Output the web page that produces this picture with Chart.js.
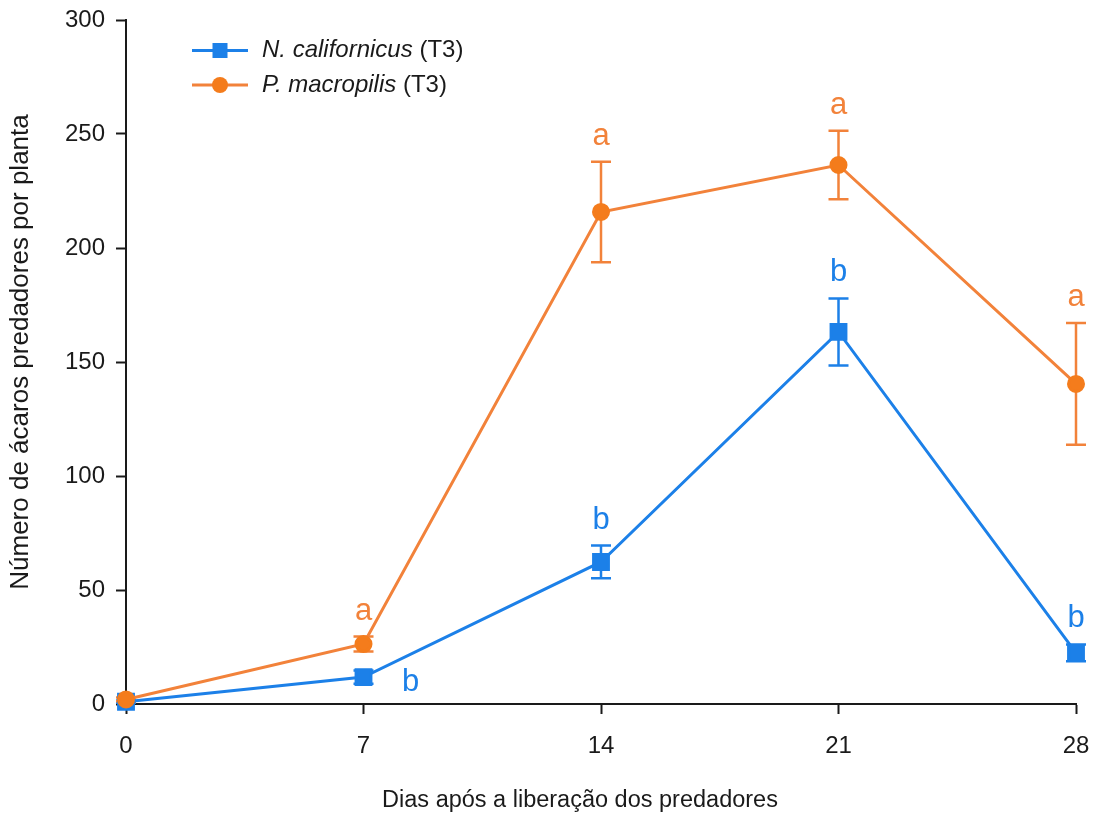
<!DOCTYPE html>
<html>
<head>
<meta charset="utf-8">
<script src="https://cdn.jsdelivr.net/npm/chart.js@4/dist/chart.umd.min.js"></script>
<style>
  html, body { margin: 0; padding: 0; background: #fff; }
  #wrap { width: 1100px; height: 814px; }
</style>
</head>
<body>
<div id="wrap"><canvas id="c" width="1100" height="814"></canvas></div>
<script>
// Days after predator release
const days = [0, 7, 14, 21, 28];

// Neoseiulus californicus (T3): mean and standard error
const nCalMean = [1, 11.8, 62.3, 163.2, 22.4];
const nCalErr  = [0.5, 2.9, 7.2, 14.7, 3.7];
const nCalLetters = ['', 'b', 'b', 'b', 'b'];

// Phytoseiulus macropilis (T3): mean and standard error
const pMacMean = [2, 26.3, 215.8, 236.4, 140.4];
const pMacErr  = [0.8, 3.3, 22, 15, 26.7];
const pMacLetters = ['', 'a', 'a', 'a', 'a'];

const yTicks = [0, 50, 100, 150, 200, 250, 300];

const xTitle = 'Dias após a liberação dos predadores';
const yTitle = 'Número de ácaros predadores por planta';

const BLUE = '#1c80e8';
const ORANGE = '#f2823a';
const ORANGE_PT = '#f47c1c';
const INK = '#1a1a1a';
const FONT = '"Liberation Sans", Arial, sans-serif';

const toPoints = (ys) => days.map((d, i) => ({ x: d, y: ys[i] }));

// Error bars, drawn under the markers, and significance letters
const errorBars = {
  id: 'errorBars',
  beforeDatasetsDraw(chart) {
    const { ctx, scales: { x, y } } = chart;
    chart.data.datasets.forEach((ds) => {
      ctx.save();
      ctx.strokeStyle = ds.borderColor;
      ctx.lineWidth = 2.5;
      ds.err.forEach((e, i) => {
        const px = x.getPixelForValue(days[i]);
        const top = y.getPixelForValue(ds.mean[i] + e);
        const bot = y.getPixelForValue(ds.mean[i] - e);
        const cap = 10;
        ctx.beginPath();
        ctx.moveTo(px, top); ctx.lineTo(px, bot);
        ctx.moveTo(px - cap, top); ctx.lineTo(px + cap, top);
        ctx.moveTo(px - cap, bot); ctx.lineTo(px + cap, bot);
        ctx.stroke();
      });
      ctx.restore();
    });
  },
  afterDatasetsDraw(chart) {
    const { ctx, scales: { x, y } } = chart;
    chart.data.datasets.forEach((ds) => {
      ctx.save();
      ctx.fillStyle = ds.borderColor;
      ctx.font = '31px ' + FONT;
      ctx.textAlign = 'center';
      ctx.textBaseline = 'alphabetic';
      ds.letters.forEach((t, i) => {
        if (!t) return;
        const px = x.getPixelForValue(days[i]);
        const py = y.getPixelForValue(ds.mean[i]);
        const top = y.getPixelForValue(ds.mean[i] + ds.err[i]);
        if (ds.letterSide && ds.letterSide[i]) {
          ctx.fillText(t, px + 47, py + 14);
        } else {
          ctx.fillText(t, px, top - 17);
        }
      });
      ctx.restore();
    });
  }
};

// Axis titles
const axisTitles = {
  id: 'axisTitles',
  afterDraw(chart) {
    const { ctx } = chart;
    ctx.save();
    ctx.fillStyle = INK;
    ctx.textAlign = 'center';
    ctx.textBaseline = 'middle';
    ctx.font = '23.5px ' + FONT;
    ctx.fillText(xTitle, 580, 801);
    ctx.font = '26px ' + FONT;
    ctx.translate(21, 352);
    ctx.rotate(-Math.PI / 2);
    ctx.fillText(yTitle, 0, 0);
    ctx.restore();
  }
};

// Legend with italic species names
const legendBox = {
  id: 'legendBox',
  afterDraw(chart) {
    const { ctx } = chart;
    const rows = [
      { ds: chart.data.datasets[0], y: 50.5 },
      { ds: chart.data.datasets[1], y: 85 }
    ];
    rows.forEach(({ ds, y }) => {
      ctx.save();
      ctx.strokeStyle = ds.borderColor;
      ctx.lineWidth = 3;
      ctx.beginPath();
      ctx.moveTo(192, y); ctx.lineTo(248, y);
      ctx.stroke();
      ctx.fillStyle = ds.pointBackgroundColor;
      if (ds.pointStyle === 'rect') {
        ctx.fillRect(220 - 7.5, y - 7.5, 15, 15);
      } else {
        ctx.beginPath();
        ctx.arc(220, y, 8, 0, Math.PI * 2);
        ctx.fill();
      }
      ctx.fillStyle = INK;
      ctx.textBaseline = 'middle';
      ctx.textAlign = 'left';
      ctx.font = 'italic 24px ' + FONT;
      ctx.fillText(ds.species, 262, y);
      const w = ctx.measureText(ds.species + ' ').width;
      ctx.font = '24px ' + FONT;
      ctx.fillText('(T3)', 262 + w, y);
      ctx.restore();
    });
  }
};

new Chart(document.getElementById('c'), {
  type: 'line',
  data: {
    datasets: [
      {
        label: 'N. californicus (T3)',
        species: 'N. californicus',
        data: toPoints(nCalMean),
        mean: nCalMean, err: nCalErr, letters: nCalLetters,
        letterSide: [false, true, false, false, false],
        borderColor: BLUE,
        backgroundColor: BLUE,
        pointBackgroundColor: BLUE,
        pointBorderColor: BLUE,
        pointStyle: 'rect',
        pointRadius: 10.5,
        borderWidth: 3,
        tension: 0,
        clip: false,
        order: 1
      },
      {
        label: 'P. macropilis (T3)',
        species: 'P. macropilis',
        data: toPoints(pMacMean),
        mean: pMacMean, err: pMacErr, letters: pMacLetters,
        borderColor: ORANGE,
        backgroundColor: ORANGE_PT,
        pointBackgroundColor: ORANGE_PT,
        pointBorderColor: ORANGE_PT,
        pointStyle: 'circle',
        pointRadius: 7.5,
        borderWidth: 3,
        tension: 0,
        clip: false,
        order: 0
      }
    ]
  },
  options: {
    responsive: false,
    animation: false,
    events: [],
    layout: { padding: { top: 20, right: 24, bottom: 0, left: 0 } },
    plugins: {
      legend: { display: false },
      tooltip: { enabled: false }
    },
    scales: {
      x: {
        type: 'linear',
        min: 0, max: 28,
        afterFit(scale) {
          scale.height = 110;
          scale.paddingLeft = 0;
          scale.paddingRight = 0;
        },
        ticks: {
          stepSize: 7,
          color: INK,
          padding: 18,
          font: { family: FONT, size: 24 }
        },
        grid: {
          display: true,
          drawOnChartArea: false,
          drawTicks: true,
          tickLength: 10,
          tickWidth: 2,
          tickColor: INK
        },
        border: { display: true, color: INK, width: 2 },
        title: { display: false }
      },
      y: {
        min: 0, max: 300,
        afterFit(scale) {
          scale.width = 126;
          scale.paddingTop = 0;
          scale.paddingBottom = 0;
        },
        afterBuildTicks(scale) { scale.ticks = yTicks.map(v => ({ value: v })); },
        ticks: {
          color: INK,
          padding: 11,
          font: { family: FONT, size: 24 }
        },
        grid: {
          display: true,
          drawOnChartArea: false,
          drawTicks: true,
          tickLength: 10,
          tickWidth: 2,
          tickColor: INK
        },
        border: { display: true, color: INK, width: 2 },
        title: { display: false }
      }
    }
  },
  plugins: [errorBars, axisTitles, legendBox]
});
</script>
</body>
</html>
